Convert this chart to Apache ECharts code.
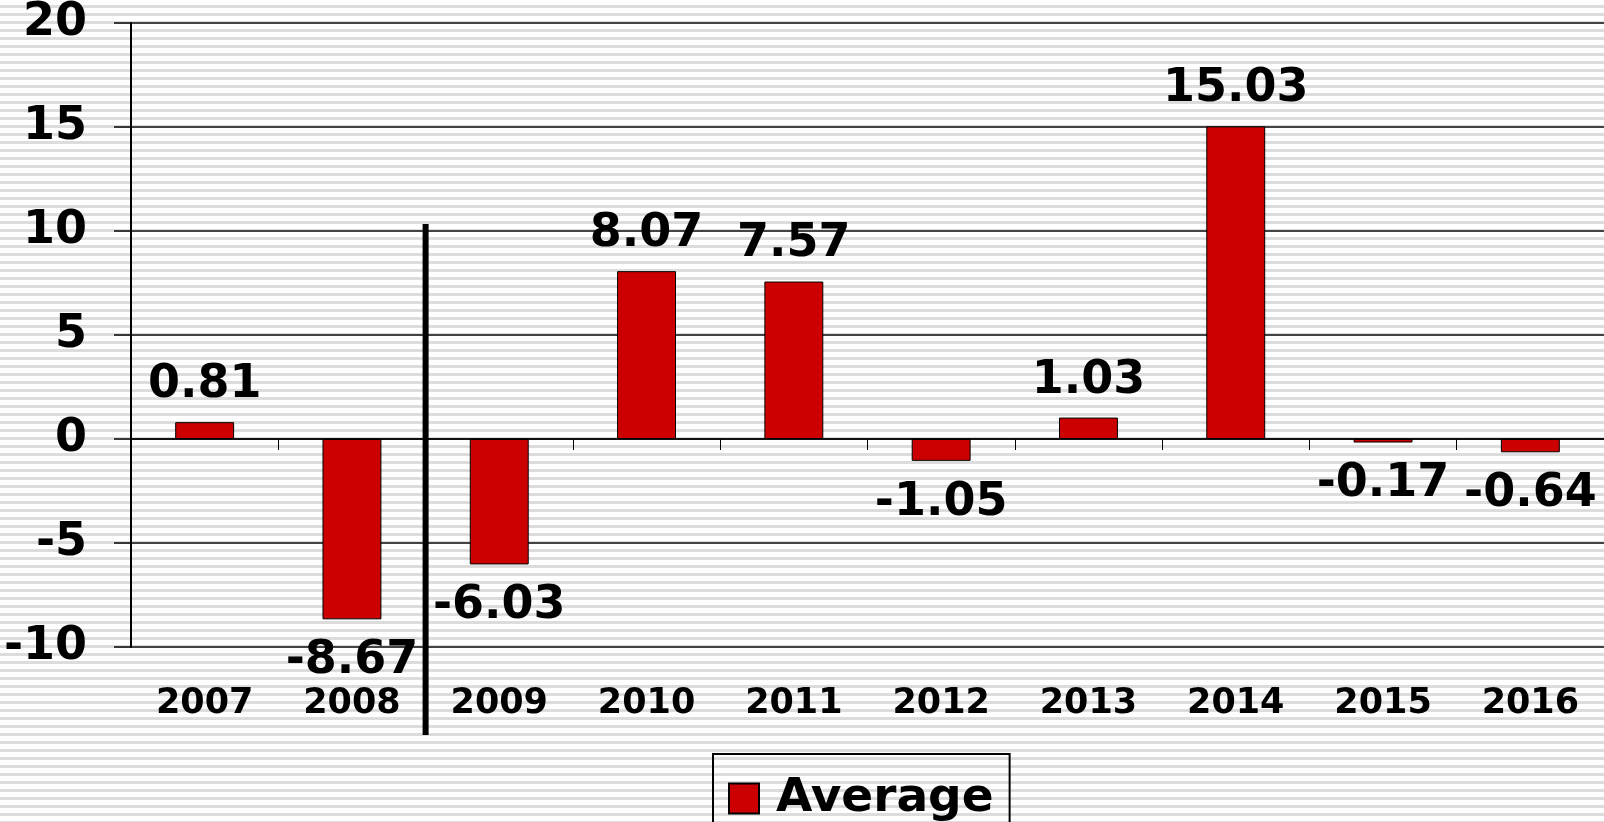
<!DOCTYPE html>
<html>
<head>
<meta charset="utf-8">
<script src="https://cdn.jsdelivr.net/npm/echarts@6/dist/echarts.min.js"></script>
<style>
  html, body { margin: 0; padding: 0; }
  body {
    background: repeating-linear-gradient(to bottom, #ffffff 0px, #ffffff 5.5px, #dcdcdc 5.5px, #dcdcdc 8px);
  }
  #main { width: 1604px; height: 822px; }
</style>
</head>
<body>
<div id="main"></div>
<script>
const years = ["2007", "2008", "2009", "2010", "2011", "2012", "2013", "2014", "2015", "2016"];
const averages = [0.81, -8.67, -6.03, 8.07, 7.57, -1.05, 1.03, 15.03, -0.17, -0.64];
const yTicks = [-10, -5, 0, 5, 10, 15, 20];
const fontFam = '"DejaVu Sans", Verdana, sans-serif';

let chart = echarts.init(document.getElementById('main'));

let option = {
  backgroundColor: 'transparent',
  animation: false,
  grid: { left: 131, right: 0, top: 16, bottom: 175, containLabel: false },
  legend: {
    data: ['Average'],
    left: 713,
    top: 754,
    orient: 'horizontal',
    borderColor: '#000',
    borderWidth: 2,
    padding: [21, 16, 24, 15],
    itemWidth: 30,
    itemHeight: 30,
    icon: 'rect',
    textStyle: { fontFamily: fontFam, fontWeight: 'bold', fontSize: 47, color: '#000', padding: [0, 0, 0, 12] }
  },
  xAxis: [
    {
      type: 'category',
      data: years,
      axisLine: { onZero: true, lineStyle: { color: '#000', width: 1.5 } },
      axisTick: { show: true, length: 11, lineStyle: { color: '#000', width: 1 } },
      axisLabel: { show: false },
      splitLine: { show: false }
    },
    {
      type: 'category',
      data: years,
      position: 'bottom',
      axisLine: { show: false, onZero: false },
      axisTick: { show: false },
      axisLabel: {
        margin: 39,
        fontFamily: fontFam, fontWeight: 'bold', fontSize: 35, color: '#000'
      }
    }
  ],
  yAxis: {
    type: 'value',
    min: yTicks[0],
    max: yTicks[yTicks.length - 1],
    interval: 5,
    axisLine: { show: true, lineStyle: { color: '#000', width: 2 } },
    axisTick: { show: true, length: 17, lineStyle: { color: '#000', width: 1.5 } },
    splitLine: { show: true, lineStyle: { color: '#111', width: 1.5 } },
    axisLabel: {
      margin: 44,
      fontFamily: fontFam, fontWeight: 'bold', fontSize: 46, color: '#000',
      verticalAlign: 'middle',
      padding: [9, 0, 0, 0]
    }
  },
  series: [
    {
      name: 'Average',
      type: 'bar',
      xAxisIndex: 0,
      data: averages.map(v => ({
        value: v,
        label: { position: v >= 0 ? 'top' : 'bottom', distance: v >= 0 ? 14 : 19 }
      })),
      barWidth: '40%',
      itemStyle: { color: '#cc0000', borderColor: '#000', borderWidth: 1 },
      label: {
        show: true,
        fontFamily: fontFam, fontWeight: 'bold', fontSize: 46, color: '#000',
        formatter: p => p.value.toFixed(2)
      }
    }
  ]
};

chart.setOption(option);

// thick divider between 2008 and 2009
function drawDivider() {
  let x1 = chart.convertToPixel({ xAxisIndex: 0 }, years[1]);
  let x2 = chart.convertToPixel({ xAxisIndex: 0 }, years[2]);
  let yTop = chart.convertToPixel({ yAxisIndex: 0 }, 10) - 7;
  let yBot = chart.convertToPixel({ yAxisIndex: 0 }, -10) + 88;
  let x = (x1 + x2) / 2;
  chart.setOption({
    graphic: [{
      type: 'line',
      shape: { x1: x, y1: yTop, x2: x, y2: yBot },
      style: { stroke: '#000', lineWidth: 6 },
      z: 100
    }]
  });
}
drawDivider();
window.addEventListener('resize', chart.resize);
</script>
</body>
</html>
